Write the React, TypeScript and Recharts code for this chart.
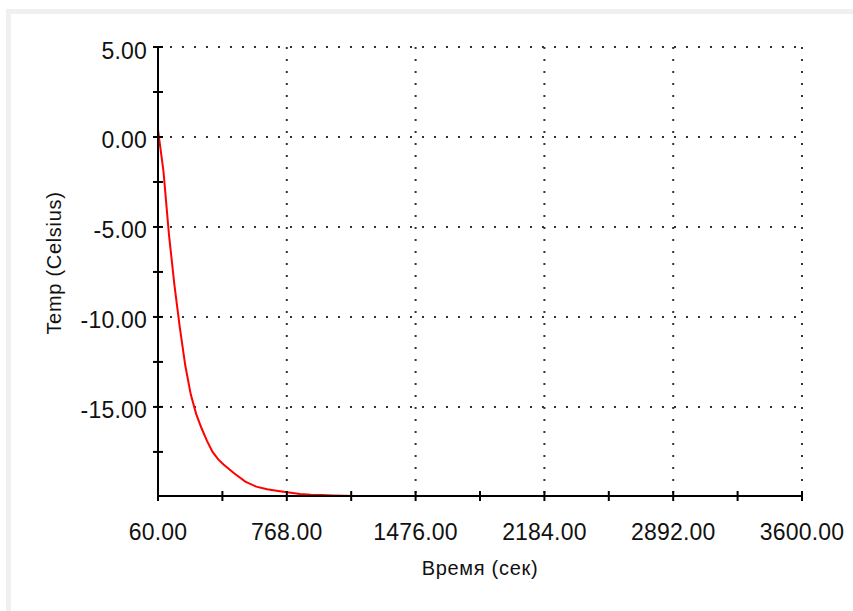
import React from "react";
import { LineChart, Line, XAxis, YAxis, CartesianGrid } from "recharts";

const times = [60, 90, 120, 150, 180, 210, 240, 270, 300, 330, 360, 390, 420, 450, 480, 540, 600, 660, 720, 780, 840, 900, 960, 1020, 1080, 1140, 3600];
const temps = [0.4, -1.9, -5.4, -8.2, -10.6, -12.7, -14.3, -15.4, -16.2, -16.9, -17.5, -17.9, -18.2, -18.45, -18.7, -19.15, -19.43, -19.57, -19.67, -19.76, -19.84, -19.88, -19.9, -19.92, -19.94, -19.95, -19.95];

const xMajorTicks = [60, 768, 1476, 2184, 2892, 3600];
const xMinorTicks = [414, 1122, 1830, 2538, 3246];
const yMajorTicks = [5, 0, -5, -10, -15];
const yMinorTicks = [2.5, -2.5, -7.5, -12.5, -17.5];
const xGridValues = [768, 1476, 2184, 2892, 3600];
const yGridValues = [5, 0, -5, -10, -15];
const xDomain = [60, 3600];
const yDomain = [-19.95, 5];

const xLabel = "Время (сек)";
const yLabel = "Temp (Celsius)";

const data = times.map((t, i) => ({ t, temp: temps[i] }));

const FONT = "'Liberation Sans', Arial, sans-serif";

const YTick = (props: any) => {
  const { x, y, payload } = props;
  const major = yMajorTicks.includes(payload.value);
  return (
    <g>
      <line x1={x - 5} x2={x + 5} y1={y} y2={y} stroke="#000" strokeWidth={2} />
      {major && (
        <text x={x - 11} y={y + 11.5} textAnchor="end" fontFamily={FONT} fontSize={23} letterSpacing={0.2} fill="#111">
          {payload.value.toFixed(2)}
        </text>
      )}
    </g>
  );
};

const XTick = (props: any) => {
  const { x, y, payload } = props;
  const major = xMajorTicks.includes(payload.value);
  return (
    <g>
      <line x1={x} x2={x} y1={y - 5} y2={y + 5} stroke="#000" strokeWidth={2} />
      {major && (
        <text x={x} y={y + 44} textAnchor="middle" fontFamily={FONT} fontSize={23} letterSpacing={0.2} fill="#111">
          {payload.value.toFixed(2)}
        </text>
      )}
    </g>
  );
};

export default function App() {
  const xTicks = [...xMajorTicks, ...xMinorTicks].sort((a, b) => a - b);
  const yTicks = [...yMajorTicks, ...yMinorTicks].sort((a, b) => b - a);
  return (
    <div style={{ position: "fixed", left: 0, top: 0, width: 853, height: 611, background: "#fff", overflow: "hidden" }}>
      <div
        style={{
          position: "absolute",
          left: 6,
          top: 9,
          width: 853,
          height: 611,
          borderTop: "5px solid #f0f0f0",
          borderLeft: "5px solid #f0f0f0",
          boxSizing: "border-box",
        }}
      />
      <div style={{ position: "absolute", left: 0, top: 0 }}>
        <LineChart width={853} height={611} data={data} margin={{ top: 47, right: 51, bottom: 0, left: 0 }}>
          <CartesianGrid
            stroke="#333"
            strokeWidth={2}
            strokeDasharray="2 10"
            horizontalValues={yGridValues}
            verticalValues={xGridValues}
          />
          <XAxis
            dataKey="t"
            type="number"
            domain={xDomain}
            ticks={xTicks}
            interval={0}
            height={115}
            tickSize={0}
            tickMargin={0}
            tickLine={false}
            axisLine={{ stroke: "#000", strokeWidth: 2 }}
            tick={<XTick />}
            allowDataOverflow
            label={{
              value: xLabel,
              position: "insideBottom",
              content: () => (
                <text x={480} y={575} textAnchor="middle" fontFamily={FONT} fontSize={20} letterSpacing={0.7} fill="#111">
                  {xLabel}
                </text>
              ),
            }}
          />
          <YAxis
            type="number"
            domain={yDomain}
            ticks={yTicks}
            interval={0}
            width={158}
            tickSize={0}
            tickMargin={0}
            tickLine={false}
            axisLine={{ stroke: "#000", strokeWidth: 2 }}
            tick={<YTick />}
            allowDataOverflow
            label={{
              value: yLabel,
              position: "insideLeft",
              content: () => (
                <text
                  x={61}
                  y={263}
                  transform="rotate(-90 61 263)"
                  textAnchor="middle"
                  fontFamily={FONT}
                  fontSize={20}
                  letterSpacing={0.7}
                  fill="#111"
                >
                  {yLabel}
                </text>
              ),
            }}
          />
          <Line type="linear" dataKey="temp" stroke="#ff0000" strokeWidth={2} dot={false} isAnimationActive={false} />
        </LineChart>
      </div>
    </div>
  );
}
